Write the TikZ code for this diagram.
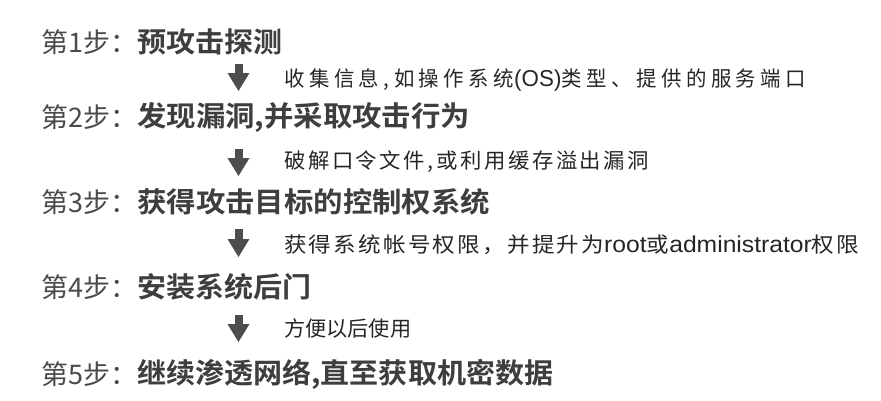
\documentclass[tikz,border=0pt]{standalone}
\usepackage{fontspec}
\usepackage{graphicx}
\usetikzlibrary{arrows.meta}
\newfontfamily\cjk{Noto Sans CJK SC}
\newfontfamily\cjkbold{Noto Sans CJK SC Bold}
\newfontfamily\latinsans{Liberation Sans}
\definecolor{prefixgray}{HTML}{4A4A4A}
\definecolor{titlegray}{HTML}{3E3E3E}
\definecolor{labelgray}{HTML}{262626}
\definecolor{arrowgray}{HTML}{4D4D4D}
\newcommand{\fitw}[2]{\resizebox{#1}{\height}{#2}}
\newcommand{\tightlatin}[1]{{\latinsans\fontsize{23}{23}\selectfont #1}}
\tikzset{
  stepprefix/.style={anchor=west, inner sep=0pt, text=prefixgray, font=\cjk\fontsize{27}{27}\selectfont},
  steptitle/.style={anchor=west, inner sep=0pt, text=titlegray, font=\cjkbold\fontsize{28}{28}\selectfont},
  steplabel/.style={anchor=west, inner sep=0pt, text=labelgray, font=\cjk\fontsize{21}{21}\selectfont},
  flowarrow/.style={draw=arrowgray, line width=8pt, -{Triangle[width=22pt,length=18pt,line width=0pt,fill=arrowgray]}}
}
\begin{document}
\begin{tikzpicture}[x=1pt,y=-1pt]
\fill[white] (0,0) rectangle (881,400);
\useasboundingbox (0,0) rectangle (881,400);

% steps
\node[stepprefix] (p1) at (41,42) {第1步：};
\node[steptitle] (t1) at (137,42) {\fitw{145pt}{预攻击探测}};
\node[stepprefix] (p2) at (41,117) {第2步：};
\node[steptitle] (t2) at (137,117) {\fitw{333pt}{发现漏洞,并采取攻击行为}};
\node[stepprefix] (p3) at (41,202) {第3步：};
\node[steptitle] (t3) at (137,202) {\fitw{353pt}{获得攻击目标的控制权系统}};
\node[stepprefix] (p4) at (41,287) {第4步：};
\node[steptitle] (t4) at (137,287) {\fitw{174pt}{安装系统后门}};
\node[stepprefix] (p5) at (41,374) {第5步：};
\node[steptitle] (t5) at (137,374) {\fitw{416pt}{继续渗透网络,直至获取机密数据}};

% labels
\node[steplabel] (l1) at (284,80) {\fitw{522pt}{\addfontfeature{LetterSpace=22}收集信息,如操作系统\tightlatin{(OS)}类型、提供的服务端口}};
\node[steplabel] (l2) at (284,162) {\fitw{365pt}{\addfontfeature{LetterSpace=12}破解口令文件,或利用缓存溢出漏洞}};
\node[steplabel] (l3) at (284,245) {\fitw{575pt}{\addfontfeature{LetterSpace=10}获得系统帐号权限，并提升为\tightlatin{root}或\tightlatin{administrator}权限}};
\node[steplabel] (l4) at (284,329) {\fitw{127pt}{方便以后使用}};

% arrows
\coordinate (a1s) at (238.5,64);  \coordinate (a1e) at (238.5,91);
\coordinate (a2s) at (238.5,149); \coordinate (a2e) at (238.5,176);
\coordinate (a3s) at (238.5,229); \coordinate (a3e) at (238.5,257);
\coordinate (a4s) at (238.5,315); \coordinate (a4e) at (238.5,342);
\draw[flowarrow] (a1s) -- (a1e);
\draw[flowarrow] (a2s) -- (a2e);
\draw[flowarrow] (a3s) -- (a3e);
\draw[flowarrow] (a4s) -- (a4e);
\end{tikzpicture}
\end{document}
